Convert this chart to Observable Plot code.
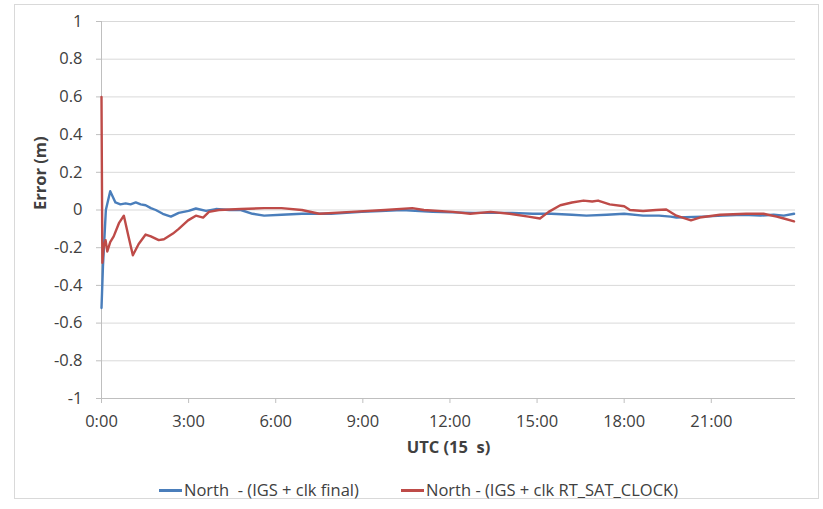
<!DOCTYPE html>
<html>
<head>
<meta charset="utf-8">
<script src="https://cdn.jsdelivr.net/npm/d3@7"></script>
<script src="https://cdn.jsdelivr.net/npm/@observablehq/plot@0.6"></script>
<style>
  html, body { margin: 0; padding: 0; background: #fff; }
  #wrap { position: relative; width: 823px; height: 509px; overflow: hidden; font-family: "Open Sans", sans-serif; }
  #border { position: absolute; left: 14px; top: 4px; width: 803px; height: 493px; border: 1px solid #d9d9d9; }
  #chart { position: absolute; left: 0; top: 0; }
  .leg { position: absolute; top: 478px; font-size: 16.5px; color: #404040; white-space: pre; line-height: 24px; }
  .sw { display: inline-block; width: 23px; height: 3px; vertical-align: middle; margin-right: 2px; position: relative; top: -1px; }
</style>
</head>
<body>
<div id="wrap">
  <div id="border"></div>
  <div id="chart"></div>
  <div class="leg" style="left:159px"><span class="sw" style="background:#4a7ebb"></span>North  - (IGS + clk final)</div>
  <div class="leg" style="left:401px"><span class="sw" style="background:#be4b48"></span>North - (IGS + clk RT_SAT_CLOCK)</div>
</div>
<script>
// Hours of day (UTC) and North error (m)
const blueHours  = [0, 0.05, 0.15, 0.3, 0.48, 0.65, 0.83, 1.0, 1.18, 1.35, 1.52, 1.7, 1.87, 2.11, 2.39, 2.66, 3.0, 3.25, 3.6, 3.94, 4.4, 4.8, 5.2, 5.6, 6.2, 6.9, 7.9, 8.96, 9.6, 10.35, 11.4, 12.8, 14.15, 14.85, 15.5, 16.2, 16.7, 17.4, 18.0, 18.65, 19.2, 19.6, 19.8, 20.7, 21.4, 22.1, 22.7, 23.15, 23.5, 23.85];
const blueValues = [-0.52, -0.3, 0.0, 0.1, 0.04, 0.03, 0.035, 0.03, 0.04, 0.03, 0.025, 0.01, 0.0, -0.02, -0.035, -0.015, -0.005, 0.008, -0.005, 0.005, 0.0, 0.0, -0.02, -0.03, -0.025, -0.02, -0.02, -0.01, -0.005, 0.0, -0.01, -0.015, -0.015, -0.02, -0.02, -0.025, -0.03, -0.025, -0.02, -0.03, -0.03, -0.035, -0.04, -0.035, -0.03, -0.025, -0.03, -0.025, -0.03, -0.02];

const redHours  = [0, 0.03, 0.07, 0.14, 0.2, 0.3, 0.42, 0.6, 0.77, 0.93, 1.08, 1.28, 1.52, 1.7, 1.97, 2.15, 2.46, 2.66, 2.98, 3.25, 3.5, 3.7, 4.04, 4.8, 5.6, 6.2, 6.9, 7.5, 8.6, 9.76, 10.7, 11.1, 12.1, 12.7, 13.4, 14.05, 14.7, 15.1, 15.4, 15.8, 16.2, 16.6, 16.9, 17.1, 17.5, 18.0, 18.2, 18.65, 19.1, 19.45, 19.8, 20.3, 20.6, 21.3, 22.2, 22.8, 23.25, 23.5, 23.85];
const redValues = [0.6, -0.28, -0.2, -0.16, -0.22, -0.17, -0.14, -0.07, -0.03, -0.14, -0.24, -0.18, -0.13, -0.14, -0.16, -0.155, -0.125, -0.1, -0.055, -0.03, -0.04, -0.01, 0.0, 0.005, 0.01, 0.01, 0.0, -0.02, -0.01, 0.0, 0.01, 0.0, -0.01, -0.02, -0.01, -0.02, -0.035, -0.045, -0.01, 0.025, 0.04, 0.05, 0.045, 0.05, 0.03, 0.02, 0.0, -0.005, 0.0, 0.003, -0.03, -0.055, -0.04, -0.025, -0.02, -0.02, -0.035, -0.045, -0.06];

const seriesNames = ["North  - (IGS + clk final)", "North - (IGS + clk RT_SAT_CLOCK)"];
const seriesColors = ["#4a7ebb", "#be4b48"];

const xTicks = [0, 3, 6, 9, 12, 15, 18, 21];
const xTickLabels = ["0:00", "3:00", "6:00", "9:00", "12:00", "15:00", "18:00", "21:00"];
const yTicks = [-1, -0.8, -0.6, -0.4, -0.2, 0, 0.2, 0.4, 0.6, 0.8, 1];
const yTickLabels = ["-1", "-0.8", "-0.6", "-0.4", "-0.2", "0", "0.2", "0.4", "0.6", "0.8", "1"];

const xTitle = "UTC (15\u00a0 s)";
const yTitle = "Error (m)";

const data = [
  ...blueHours.map((h, i) => ({h, v: blueValues[i], s: seriesNames[0]})),
  ...redHours.map((h, i) => ({h, v: redValues[i], s: seriesNames[1]}))
];

const chart = Plot.plot({
  width: 823,
  height: 470,
  marginLeft: 101,
  marginRight: 28,
  marginTop: 21,
  marginBottom: 72,
  style: { fontFamily: "Open Sans, sans-serif", fontSize: "16.5px", color: "#404040", background: "transparent" },
  x: { domain: [0, 23.9] },
  y: { domain: [-1, 1] },
  color: { domain: seriesNames, range: seriesColors },
  marks: [
    Plot.gridY(yTicks, { stroke: "#d9d9d9", strokeOpacity: 1 }),
    Plot.ruleX([0], { stroke: "#bfbfbf" }),
    Plot.ruleY([-1], { stroke: "#bfbfbf" }),
    Plot.axisY({ ticks: yTicks, tickFormat: d => yTickLabels[yTicks.indexOf(d)], tickSize: 5, tickPadding: 14, stroke: "#bfbfbf", fill: "#404040", label: null }),
    Plot.axisX({ ticks: xTicks, tickFormat: d => xTickLabels[xTicks.indexOf(d)], tickSize: 5, tickPadding: 12, stroke: "#bfbfbf", fill: "#404040", label: null }),
    Plot.line(data, { x: "h", y: "v", z: "s", stroke: "s", strokeWidth: 2.4, strokeLinejoin: "round" }),
    Plot.text([yTitle], { frameAnchor: "left", dx: -61, rotate: -90, fontWeight: "bold", fill: "#404040", fontSize: 16.5 }),
    Plot.text([xTitle], { frameAnchor: "bottom", dy: 54, fontWeight: "bold", fill: "#404040", fontSize: 16.5 })
  ]
});
document.getElementById("chart").appendChild(chart);
</script>
</body>
</html>
